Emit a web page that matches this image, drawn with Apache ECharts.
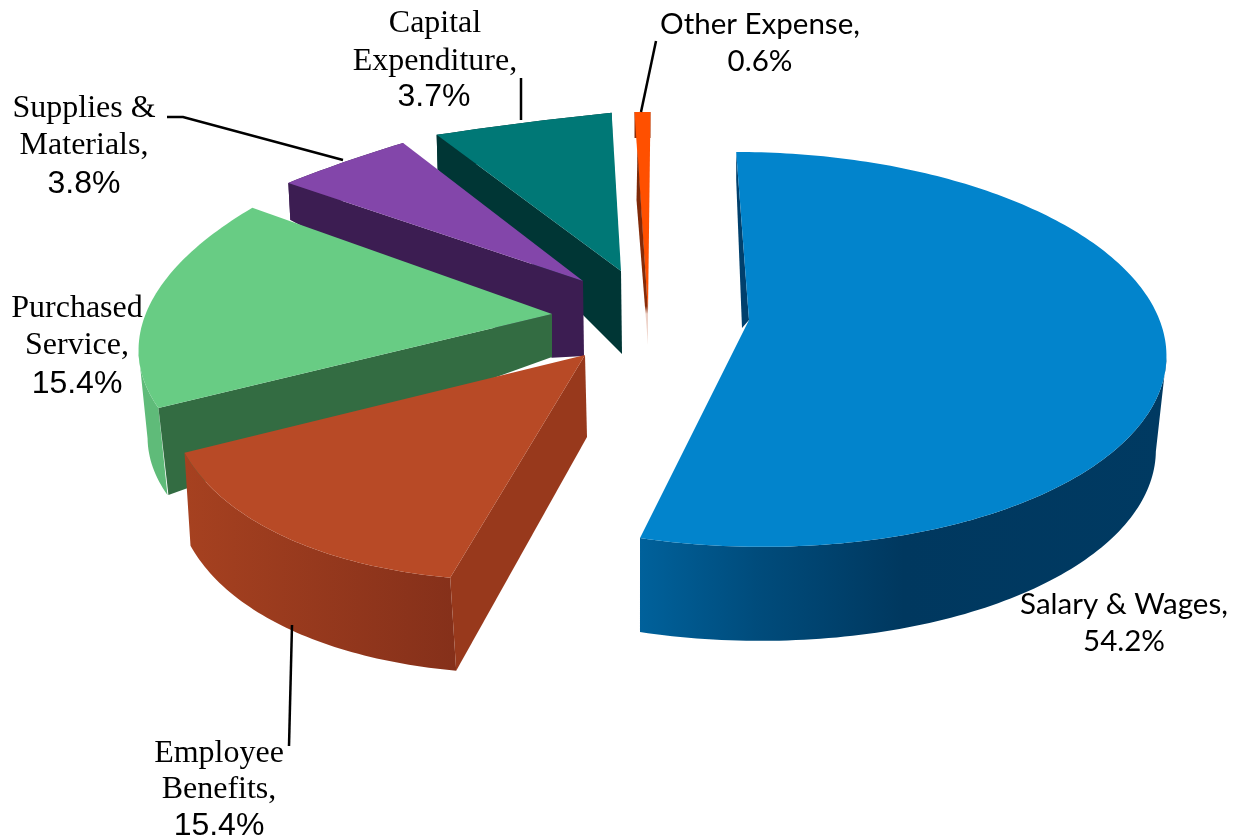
<!DOCTYPE html>
<html><head><meta charset="utf-8">
<style>html,body{margin:0;padding:0;background:#fff}#c{width:1234px;height:839px}</style>
<script src="https://cdn.jsdelivr.net/npm/echarts@6/dist/echarts.min.js"></script>
</head><body><div id="c"></div>
<script>
var categories = ["Salary & Wages","Employee Benefits","Purchased Service","Supplies & Materials","Capital Expenditure","Other Expense"];
var values = [54.2,15.4,15.4,3.8,3.7,0.6];
var topColors = ["#0284cc","#b84a26","#68cc84","#8346aa","#007876","#ff5000"];
var startFaceColors = ["#00406d","#98391c","#336c42","#3c1d52","#003635","#8a2c08"];
var outerStops = [
  [[0,"#00619b"],[0.22,"#004c7c"],[0.5,"#00385f"],[1,"#003a62"]],
  [[0,"#a64120"],[1,"#85301a"]],
  [[0,"#5fbb79"],[1,"#5fbb79"]],
  [[0,"#3c1d52"],[1,"#3c1d52"]],
  [[0,"#003635"],[1,"#003635"]],
  [[0,"#8a2c08"],[1,"#8a2c08"]]
];
// projection of each exploded slice: origin, axes, skew, perspective, extrusion at hub and rim
var projections = [
  {ox:749,oy:320,rx:412,ry:193,sk:-5,t:4,p:0.149,rot:-1.35,bulge:0,hub:[-7,8],rim:[0,94],faceRim:[0,28],wall:"fromMaxX",shrink:0.02,shrinkFrom:638},
  {ox:585,oy:355,rx:415,ry:224,sk:27.5,t:-24.5,p:0,rot:0,bulge:0,hub:[2,82],rim:[6,93]},
  {ox:552,oy:314,rx:402,ry:214,sk:43.5,t:-24.2,p:0,rot:0,bulge:0.03,hub:[0,43],rim:[9,87],faceRim:[10,87],wall:"toMinX"},
  {ox:583,oy:281,rx:503,ry:204,sk:191,t:-27,p:0,rot:0,bulge:0,hub:[1,75],rim:[2,37],knee:[0.105,87]},
  {ox:621,oy:271,rx:682,ry:176,sk:337,t:3,p:0,rot:0,bulge:0,hub:[1,83],rim:[1,35]},
  {ox:648,oy:312,rx:383,ry:180,sk:180,t:87,p:0,rot:0,bulge:0,hub:[0,33],rim:[0,26],faceTop:[3,38],faceRim:[2,88],faceOnTop:true}
];
var drawOrder = [5,4,3,2,1,0];
var labelLines = [
  {text:"Salary & Wages,",x:1124,y:604,font:"Lato",size:29.5},
  {text:"54.2%",x:1124,y:641,font:"Lato",size:29.5},
  {text:"Employee",x:219,y:754,font:"Liberation Serif",size:32},
  {text:"Benefits,",x:219,y:790,font:"Liberation Serif",size:32},
  {text:"15.4%",x:219,y:826,font:"Liberation Sans",size:32},
  {text:"Purchased",x:77,y:309,font:"Liberation Serif",size:32},
  {text:"Service,",x:77,y:346,font:"Liberation Serif",size:32},
  {text:"15.4%",x:77,y:384,font:"Liberation Sans",size:32},
  {text:"Supplies &",x:84,y:109,font:"Liberation Serif",size:32},
  {text:"Materials,",x:84,y:146,font:"Liberation Serif",size:32},
  {text:"3.8%",x:84,y:184,font:"Liberation Sans",size:32},
  {text:"Capital",x:435,y:23.5,font:"Liberation Serif",size:32},
  {text:"Expenditure,",x:435,y:61.5,font:"Liberation Serif",size:32},
  {text:"3.7%",x:434,y:97,font:"Liberation Sans",size:32},
  {text:"Other Expense,",x:760,y:24,font:"Lato",size:29.5},
  {text:"0.6%",x:760,y:61,font:"Lato",size:29.5}
];
var leaders = [
  [[292,625],[289,746]],
  [[167,117],[183,117],[343,160]],
  [[521,78],[521,120]],
  [[656,41],[641,112]]
];

var startAngles = [];
values.reduce(function(acc,v,i){startAngles[i]=acc;return acc+v;},0);

function project(g,deg,r){
  var a=(deg+g.rot)*Math.PI/180,u=r*Math.sin(a),v=r*Math.cos(a),w=1+g.p*v;
  return [g.ox+(g.rx*u+g.sk*v)/w, g.oy+(g.t*u-g.ry*v)/w];
}
function add(q,d){return [q[0]+d[0],q[1]+d[1]];}
function renderSlice(params,api){
  var i=api.value(0), val=api.value(1), g=projections[i];
  var a0=startAngles[i]*3.6, sweep=val*3.6, n=Math.max(12,Math.round(sweep));
  var arc=[],k;
  for(k=0;k<=n;k++){
    var s=k/n;
    arc.push(project(g,a0+sweep*s,1+g.bulge*Math.sin(Math.PI*s)));
  }
  var xs=arc.map(function(q){return q[0];}), from=0, to=n;
  if(g.wall==="fromMaxX") from=xs.indexOf(Math.max.apply(null,xs));
  if(g.wall==="toMinX") to=xs.indexOf(Math.min.apply(null,xs));
  var wallTop=arc.slice(from,to+1);
  var wallBottom=wallTop.map(function(q){
    var dx=g.shrink?-g.shrink*(q[0]-g.shrinkFrom):0;
    return [q[0]+g.rim[0]+dx,q[1]+g.rim[1]];
  }).reverse();
  var hub=[g.ox,g.oy];
  var outer=new echarts.graphic.LinearGradient(0,0,1,0,outerStops[i].map(function(x){return {offset:x[0],color:x[1]};}));
  var faceFill=i===5?new echarts.graphic.LinearGradient(0,0,0,1,[{offset:0,color:"#7a2808"},{offset:0.8,color:"#8a2c08"},{offset:0.84,color:"#ecd0c6"},{offset:1,color:"#f2dcd4"}]):startFaceColors[i];
  var facePts=[hub,add(arc[0],g.faceTop||[0,0]),add(arc[0],g.faceRim||g.rim)];
  if(g.knee){
    facePts.push([hub[0]+(arc[0][0]-hub[0])*g.knee[0],hub[1]+(arc[0][1]-hub[1])*g.knee[0]+g.knee[1]]);
  }
  facePts.push(add(hub,g.hub));
  var wallEl={type:"polygon",shape:{points:wallTop.concat(wallBottom)},style:{fill:outer}};
  var faceEl={type:"polygon",shape:{points:facePts},style:{fill:faceFill}};
  var topEl={type:"polygon",shape:{points:[hub].concat(arc)},style:{fill:topColors[i]}};
  return {type:"group",children:g.faceOnTop?[wallEl,topEl,faceEl]:[wallEl,faceEl,topEl]};
}
var chart=echarts.init(document.getElementById("c"),null,{renderer:"canvas"});
var graphicEls=leaders.map(function(pts){
  return {type:"polyline",z:20,silent:true,shape:{points:pts},style:{stroke:"#000",lineWidth:2.5,fill:null}};
}).concat(labelLines.map(function(l){
  return {type:"text",z:20,silent:true,x:l.x,y:l.y,style:{text:l.text,fill:"#000",font:l.size+'px "'+l.font+'"',textAlign:"center",textVerticalAlign:"middle"}};
}));
chart.setOption({
  animation:false,
  backgroundColor:"#fff",
  tooltip:{show:false},
  series:[{type:"custom",coordinateSystem:"none",silent:true,clip:false,renderItem:renderSlice,
    data:drawOrder.map(function(i){return {name:categories[i],value:[i,values[i]]};})}],
  graphic:graphicEls
});
</script></body></html>
